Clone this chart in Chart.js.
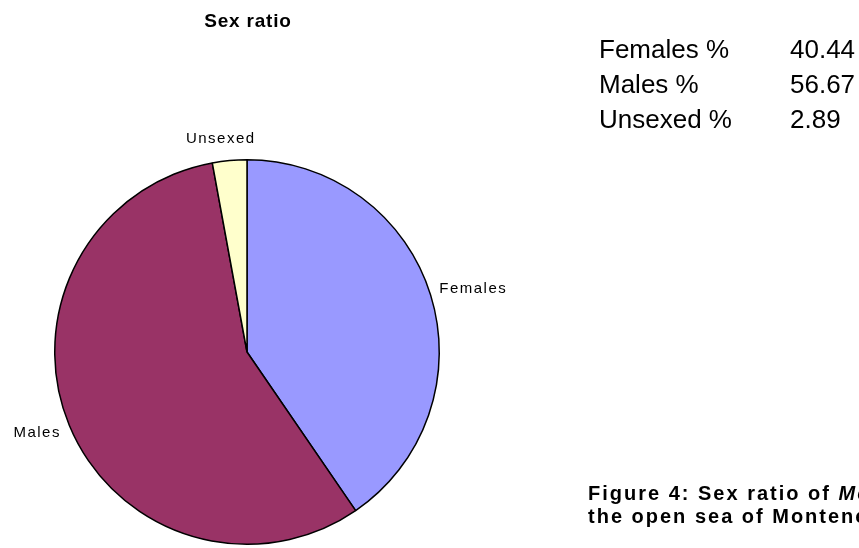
<!DOCTYPE html>
<html>
<head>
<meta charset="utf-8">
<script src="https://cdn.jsdelivr.net/npm/chart.js@4/dist/chart.umd.min.js"></script>
<style>
    html, body { margin: 0; padding: 0; background: #fff; overflow: hidden; }
    #wrap { position: relative; width: 859px; height: 548px; overflow: hidden; }
    #pie { position: absolute; left: 0; top: 0; }
    .title { position: absolute; left: 148px; top: 10px; width: 200px; text-align: center;
        font: bold 19px Arial, "Liberation Sans", sans-serif; letter-spacing: 0.8px; line-height: 22px; }
    table.stats { position: absolute; left: 599px; top: 32px; border-collapse: collapse;
        font: 26px Arial, "Liberation Sans", sans-serif; color: #000; }
    table.stats td { padding: 0; height: 35px; line-height: 35px; white-space: nowrap; }
    .caption { position: absolute; left: 588px; top: 482px; white-space: nowrap;
        font: bold 20px Arial, "Liberation Sans", sans-serif; letter-spacing: 2px; line-height: 23px; }
</style>
</head>
<body>
<div id="wrap">
    <canvas id="pie" width="859" height="548"></canvas>
    <div class="title">Sex ratio</div>
    <table class="stats" id="stats"></table>
    <div class="caption">Figure 4: Sex ratio of <i>Merluccius merluccius</i> in<br>the open sea of Montenegro</div>
</div>
<script>
// Sex ratio data
const categories = ['Females', 'Males', 'Unsexed'];
const percentages = [40.44, 56.67, 2.89];
const sliceColors = ['#9999FF', '#993366', '#FFFFCC'];

// Stats table on the right
const statsTable = document.getElementById('stats');
categories.forEach((name, i) => {
    const row = document.createElement('tr');
    row.innerHTML = '<td style="width:191px">' + name + ' %</td><td>' + percentages[i].toFixed(2) + '</td>';
    statsTable.appendChild(row);
});

// Outside slice labels
const outsideLabels = {
    id: 'outsideLabels',
    afterDatasetsDraw(chart) {
        const ctx = chart.ctx;
        const meta = chart.getDatasetMeta(0);
        ctx.save();
        ctx.font = '15px Arial, "Liberation Sans", sans-serif';
        ctx.letterSpacing = '1.5px';
        ctx.fillStyle = '#000';
        meta.data.forEach((arc, i) => {
            const mid = (arc.startAngle + arc.endAngle) / 2;
            const r = arc.outerRadius + 9;
            const dx = Math.cos(mid), dy = Math.sin(mid);
            let x = arc.x + dx * r;
            let y = arc.y + dy * r;
            if (dx > 0.3) { ctx.textAlign = 'left'; ctx.textBaseline = 'middle'; y -= 4; }
            else if (dx < -0.3) { ctx.textAlign = 'right'; ctx.textBaseline = 'middle'; y += 4; }
            else { ctx.textAlign = 'center'; ctx.textBaseline = 'bottom'; y -= 5; x -= 8; }
            ctx.fillText(categories[i], x, y);
        });
        ctx.restore();
    }
};

new Chart(document.getElementById('pie'), {
    type: 'pie',
    data: {
        labels: categories,
        datasets: [{
            data: percentages,
            backgroundColor: sliceColors,
            borderColor: '#000',
            borderWidth: 1.5
        }]
    },
    options: {
        responsive: false,
        animation: false,
        layout: { padding: { left: 54, right: 419, top: 159, bottom: 3 } },
        plugins: {
            legend: { display: false },
            tooltip: { enabled: false }
        }
    },
    plugins: [outsideLabels]
});
</script>
</body>
</html>
